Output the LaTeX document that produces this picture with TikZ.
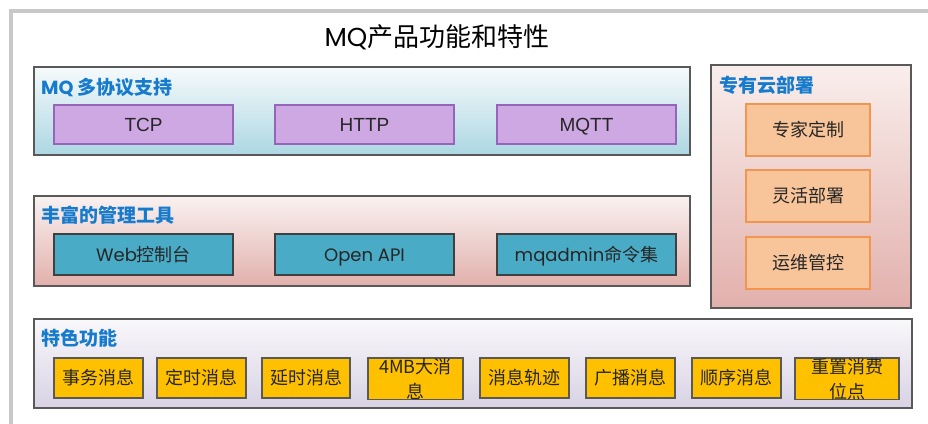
\documentclass[tikz,border=0pt]{standalone}
\usepackage{fontspec}
\newfontfamily\cjk{Noto Sans CJK SC}
\newfontfamily\pop{Poppins}
\newfontfamily\lib{Liberation Sans}
\definecolor{ttl}{RGB}{22,122,205}
\definecolor{frame}{RGB}{200,200,200}
\definecolor{purp}{RGB}{205,168,227}
\definecolor{purpb}{RGB}{150,100,185}
\definecolor{teal}{RGB}{73,171,198}
\definecolor{orng}{RGB}{248,196,154}
\definecolor{orngb}{RGB}{240,150,80}
\definecolor{yel}{RGB}{255,192,0}
\begin{document}
\begin{tikzpicture}[x=1pt,y=-1pt,
  grp/.style={draw=black!65,line width=1.1pt,anchor=north west,inner sep=0pt,outer sep=0pt},
  gtitle/.style={anchor=west,inner sep=0pt,text=ttl,font=\fontsize{19}{22}\selectfont\cjk\bfseries},
  sub/.style={anchor=north west,inner sep=0pt,outer sep=0pt,line width=1.1pt,text=black!85,font=\fontsize{18}{20}\selectfont\cjk},
  one/.style={text height=15pt,text depth=2pt},
  pbox/.style={sub,one,fill=purp,draw=purpb,minimum width=179pt,minimum height=39pt},
  tbox/.style={sub,one,fill=teal,draw=black!75,minimum width=179pt,minimum height=41pt},
  obox/.style={sub,one,fill=orng,draw=orngb,minimum width=124pt,minimum height=52pt},
  ybox/.style={sub,fill=yel,draw=black!65,minimum height=40pt,align=center,font=\fontsize{18}{25}\selectfont\cjk}
]
\useasboundingbox (0,0) rectangle (928,423);
\fill[white] (0,0) rectangle (928,423);
\draw[frame,line width=3.5pt] (11,430) -- (11,11) -- (935,11);
\node[inner sep=0pt,font=\fontsize{26}{28}\selectfont] (title) at (437,37) {{\pop MQ}{\cjk 产品功能和特性}};
% groups
\node[grp,top color={rgb,255:red,246;green,250;blue,251},bottom color={rgb,255:red,172;green,215;blue,227},minimum width=656pt,minimum height=88pt] (g1) at (34,67) {};
\node[grp,top color={rgb,255:red,249;green,242;blue,241},bottom color={rgb,255:red,226;green,176;blue,172},minimum width=656pt,minimum height=90pt] (g2) at (34,196) {};
\node[grp,top color={rgb,255:red,249;green,238;blue,236},bottom color={rgb,255:red,226;green,176;blue,172},minimum width=200pt,minimum height=243pt] (g3) at (711,65) {};
\node[grp,top color={rgb,255:red,249;green,248;blue,251},bottom color={rgb,255:red,216;green,210;blue,228},minimum width=878pt,minimum height=89pt] (g4) at (34,319) {};
\node[gtitle] (t1) at (41,87) {{\pop\bfseries MQ} 多协议支持};
\node[gtitle] (t2) at (41,215) {丰富的管理工具};
\node[gtitle] (t3) at (719,85) {专有云部署};
\node[gtitle] (t4) at (41,338) {特色功能};
% protocol
\node[pbox,font=\fontsize{19}{21}\selectfont\lib] (tcp) at (54,105) {TCP};
\node[pbox,font=\fontsize{19}{21}\selectfont\lib] (http) at (275,105) {HTTP};
\node[pbox,font=\fontsize{19}{21}\selectfont\lib] (mqtt) at (497,105) {MQTT};
% tools
\node[tbox] (web) at (54,234) {{\pop Web}控制台};
\node[tbox] (api) at (275,234) {{\pop Open API}};
\node[tbox] (adm) at (497,234) {{\pop mqadmin}命令集};
% cloud
\node[obox] (o1) at (746,104) {专家定制};
\node[obox] (o2) at (746,170) {灵活部署};
\node[obox] (o3) at (746,237) {运维管控};
% features
\node[ybox,one,minimum width=89pt] (y1) at (54,358) {事务消息};
\node[ybox,one,minimum width=89pt] (y2) at (157,358) {定时消息};
\node[ybox,one,minimum width=88pt] (y3) at (262,358) {延时消息};
\node[ybox,minimum width=95pt,text width=95pt] (y4) at (368,358) {4MB大消\\息};
\node[ybox,one,minimum width=89pt] (y5) at (480,358) {消息轨迹};
\node[ybox,one,minimum width=89pt] (y6) at (586,358) {广播消息};
\node[ybox,one,minimum width=89pt] (y7) at (692,358) {顺序消息};
\node[ybox,minimum width=104pt,text width=104pt] (y8) at (795,358) {重置消费\\位点};
\end{tikzpicture}
\end{document}
